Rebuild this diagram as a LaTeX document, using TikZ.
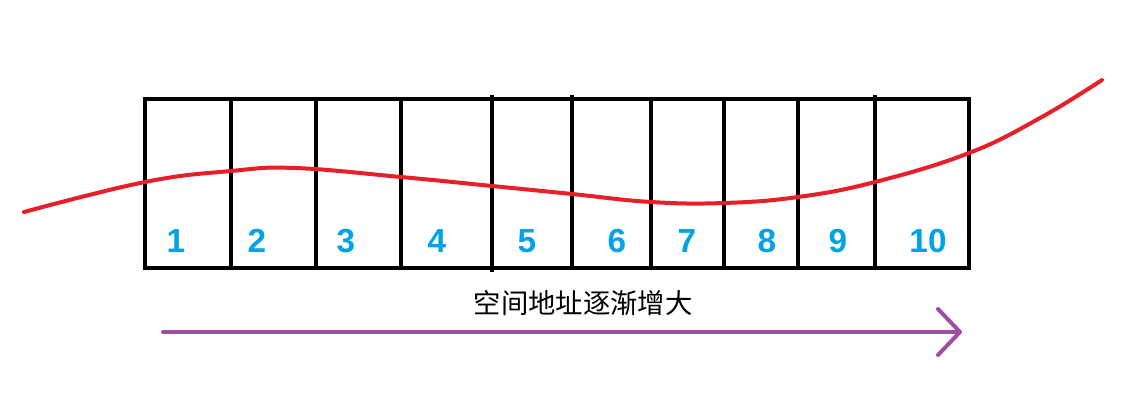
\documentclass[tikz,border=0pt]{standalone}
\usepackage{fontspec}
\setmainfont{Liberation Sans}
\newfontfamily\cjk{Noto Sans CJK SC}
\usepackage{tikz}
\usetikzlibrary{positioning}

\definecolor{cellblue}{RGB}{0,162,232}
\definecolor{curvered}{RGB}{232,30,40}
\definecolor{arrowpurple}{RGB}{160,78,165}

\tikzset{
  cellline/.style={line width=3pt, black},
  cellnum/.style={text=cellblue, font=\fontsize{25}{25}\selectfont\bfseries, inner sep=0pt},
}

\begin{document}
\begin{tikzpicture}[x=0.75pt,y=0.75pt,yscale=-1,xscale=1]
        \useasboundingbox (0,0) rectangle (1142,417);
        
        %Outer frame
        \draw [cellline] (145,99) rectangle (969,268) ;
        
        %Straight Lines
        \draw [cellline] (231,99) -- (231,268) ;
        \draw [cellline] (316,99) -- (316,268) ;
        \draw [cellline] (401,99) -- (401,268) ;
        \draw [cellline] (492,95) -- (492,272) ;
        \draw [cellline] (572,95) -- (572,268) ;
        \draw [cellline] (651,97) -- (651,268) ;
        \draw [cellline] (724,97) -- (724,268) ;
        \draw [cellline] (798,97) -- (798,268) ;
        \draw [cellline] (875,95) -- (875,268) ;
        
        %Curve
        \draw [curvered, line width=3pt, line cap=round] plot [smooth, tension=0.7] coordinates {(24,212) (145,182) (231,171) (295,168) (401,177) (492,186) (572,194) (651,202) (724,203) (798,197) (875,182) (969,153) (1040,118) (1102,80)} ;
        
        % Text Node
        \node [cellnum] (n1) at (176,241) {1};
        \node [cellnum] (n2) at (257,241) {2};
        \node [cellnum] (n3) at (346,241) {3};
        \node [cellnum] (n4) at (437,241) {4};
        \node [cellnum] (n5) at (527,241) {5};
        \node [cellnum] (n6) at (617,241) {6};
        \node [cellnum] (n7) at (687,241) {7};
        \node [cellnum] (n8) at (767,241) {8};
        \node [cellnum] (n9) at (838,241) {9};
        \node [cellnum] (n10) at (928,241) {10};
        
        % Text Node
        \node [font=\cjk\fontsize{20.5}{20.5}\selectfont, inner sep=0pt] (label) at (583,303) {空间地址逐渐增大};
        
        %Arrow
        \coordinate (arrowstart) at (163,332);
        \coordinate (arrowend) at (960,332);
        \draw [arrowpurple, line width=3pt, line cap=round] (arrowstart) -- (arrowend) ;
        \draw [arrowpurple, line width=3pt, line cap=round, line join=round] ([shift={(-22,-23)}]arrowend) -- (arrowend) -- ([shift={(-22,23)}]arrowend) ;
\end{tikzpicture}
\end{document}
